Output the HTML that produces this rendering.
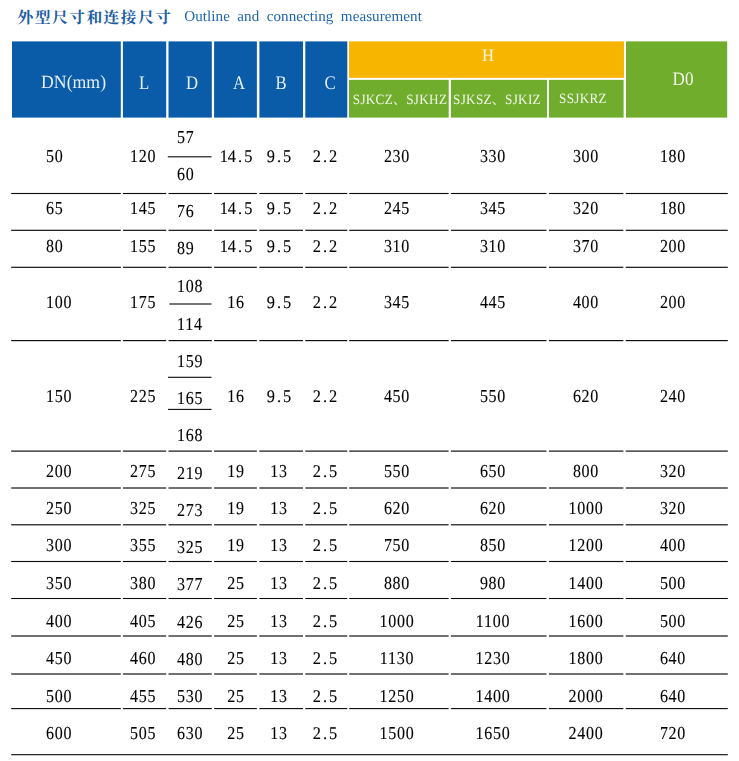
<!DOCTYPE html>
<html><head><meta charset="utf-8"><title>Outline and connecting measurement</title>
<style>
html,body{margin:0;padding:0;background:#fff;}
#pg{position:relative;width:739px;height:761px;overflow:hidden;background:#fff;font-family:"Liberation Serif",serif;text-rendering:geometricPrecision;}
#pg>svg{position:absolute;left:0;top:0;}
#tx{position:absolute;left:0;top:0;width:739px;height:761px;will-change:transform;}
.t{position:absolute;white-space:nowrap;line-height:1;display:block;}
.b{color:#000;letter-spacing:.85px;-webkit-text-stroke:.12px #000;}
.d{letter-spacing:0;}
.b i{font-style:normal;display:inline-block;width:.5em;text-align:center;}
.h{color:#fff;opacity:.9;}
.s{letter-spacing:.3px;}
.e{color:#1f66b0;}
.cm{display:inline-block;width:1em;letter-spacing:0;text-align:left;font-family:"Liberation Serif","Noto Serif CJK SC",serif;}
</style></head><body>
<div id="pg">
<svg width="739" height="761" viewBox="0 0 739 761">
<rect x="12.00" y="41.40" width="108.80" height="76.20" fill="#0a5ca8"/>
<rect x="122.90" y="41.40" width="43.30" height="76.20" fill="#0a5ca8"/>
<rect x="168.50" y="41.40" width="43.30" height="76.20" fill="#0a5ca8"/>
<rect x="214.10" y="41.40" width="42.80" height="76.20" fill="#0a5ca8"/>
<rect x="259.40" y="41.40" width="43.60" height="76.20" fill="#0a5ca8"/>
<rect x="305.30" y="41.40" width="42.00" height="76.20" fill="#0a5ca8"/>
<rect x="349.00" y="41.40" width="275.00" height="36.40" fill="#f7b500"/>
<rect x="349.00" y="79.90" width="99.70" height="37.70" fill="#70ad2d"/>
<rect x="450.90" y="79.90" width="96.10" height="37.70" fill="#70ad2d"/>
<rect x="548.90" y="79.90" width="74.70" height="37.70" fill="#70ad2d"/>
<rect x="626.00" y="41.40" width="101.20" height="76.20" fill="#70ad2d"/>
<rect x="11.20" y="192.95" width="109.60" height="1.10" fill="#0a0a0a"/>
<rect x="122.90" y="192.95" width="43.30" height="1.10" fill="#0a0a0a"/>
<rect x="168.50" y="192.95" width="43.30" height="1.10" fill="#0a0a0a"/>
<rect x="214.10" y="192.95" width="42.80" height="1.10" fill="#0a0a0a"/>
<rect x="259.40" y="192.95" width="43.60" height="1.10" fill="#0a0a0a"/>
<rect x="305.30" y="192.95" width="42.00" height="1.10" fill="#0a0a0a"/>
<rect x="349.20" y="192.95" width="99.40" height="1.10" fill="#0a0a0a"/>
<rect x="450.90" y="192.95" width="95.60" height="1.10" fill="#0a0a0a"/>
<rect x="548.90" y="192.95" width="74.50" height="1.10" fill="#0a0a0a"/>
<rect x="625.70" y="192.95" width="102.10" height="1.10" fill="#0a0a0a"/>
<rect x="11.20" y="229.73" width="109.60" height="1.15" fill="#0a0a0a"/>
<rect x="122.90" y="229.73" width="43.30" height="1.15" fill="#0a0a0a"/>
<rect x="168.50" y="229.73" width="43.30" height="1.15" fill="#0a0a0a"/>
<rect x="214.10" y="229.73" width="42.80" height="1.15" fill="#0a0a0a"/>
<rect x="259.40" y="229.73" width="43.60" height="1.15" fill="#0a0a0a"/>
<rect x="305.30" y="229.73" width="42.00" height="1.15" fill="#0a0a0a"/>
<rect x="349.20" y="229.73" width="99.40" height="1.15" fill="#0a0a0a"/>
<rect x="450.90" y="229.73" width="95.60" height="1.15" fill="#0a0a0a"/>
<rect x="548.90" y="229.73" width="74.50" height="1.15" fill="#0a0a0a"/>
<rect x="625.70" y="229.73" width="102.10" height="1.15" fill="#0a0a0a"/>
<rect x="11.20" y="266.73" width="109.60" height="1.15" fill="#0a0a0a"/>
<rect x="122.90" y="266.73" width="43.30" height="1.15" fill="#0a0a0a"/>
<rect x="168.50" y="266.73" width="43.30" height="1.15" fill="#0a0a0a"/>
<rect x="214.10" y="266.73" width="42.80" height="1.15" fill="#0a0a0a"/>
<rect x="259.40" y="266.73" width="43.60" height="1.15" fill="#0a0a0a"/>
<rect x="305.30" y="266.73" width="42.00" height="1.15" fill="#0a0a0a"/>
<rect x="349.20" y="266.73" width="99.40" height="1.15" fill="#0a0a0a"/>
<rect x="450.90" y="266.73" width="95.60" height="1.15" fill="#0a0a0a"/>
<rect x="548.90" y="266.73" width="74.50" height="1.15" fill="#0a0a0a"/>
<rect x="625.70" y="266.73" width="102.10" height="1.15" fill="#0a0a0a"/>
<rect x="11.20" y="340.03" width="109.60" height="1.15" fill="#0a0a0a"/>
<rect x="122.90" y="340.03" width="43.30" height="1.15" fill="#0a0a0a"/>
<rect x="168.50" y="340.03" width="43.30" height="1.15" fill="#0a0a0a"/>
<rect x="214.10" y="340.03" width="42.80" height="1.15" fill="#0a0a0a"/>
<rect x="259.40" y="340.03" width="43.60" height="1.15" fill="#0a0a0a"/>
<rect x="305.30" y="340.03" width="42.00" height="1.15" fill="#0a0a0a"/>
<rect x="349.20" y="340.03" width="99.40" height="1.15" fill="#0a0a0a"/>
<rect x="450.90" y="340.03" width="95.60" height="1.15" fill="#0a0a0a"/>
<rect x="548.90" y="340.03" width="74.50" height="1.15" fill="#0a0a0a"/>
<rect x="625.70" y="340.03" width="102.10" height="1.15" fill="#0a0a0a"/>
<rect x="11.20" y="450.53" width="109.60" height="1.15" fill="#0a0a0a"/>
<rect x="122.90" y="450.53" width="43.30" height="1.15" fill="#0a0a0a"/>
<rect x="168.50" y="450.53" width="43.30" height="1.15" fill="#0a0a0a"/>
<rect x="214.10" y="450.53" width="42.80" height="1.15" fill="#0a0a0a"/>
<rect x="259.40" y="450.53" width="43.60" height="1.15" fill="#0a0a0a"/>
<rect x="305.30" y="450.53" width="42.00" height="1.15" fill="#0a0a0a"/>
<rect x="349.20" y="450.53" width="99.40" height="1.15" fill="#0a0a0a"/>
<rect x="450.90" y="450.53" width="95.60" height="1.15" fill="#0a0a0a"/>
<rect x="548.90" y="450.53" width="74.50" height="1.15" fill="#0a0a0a"/>
<rect x="625.70" y="450.53" width="102.10" height="1.15" fill="#0a0a0a"/>
<rect x="11.20" y="487.43" width="109.60" height="1.15" fill="#0a0a0a"/>
<rect x="122.90" y="487.43" width="43.30" height="1.15" fill="#0a0a0a"/>
<rect x="168.50" y="487.43" width="43.30" height="1.15" fill="#0a0a0a"/>
<rect x="214.10" y="487.43" width="42.80" height="1.15" fill="#0a0a0a"/>
<rect x="259.40" y="487.43" width="43.60" height="1.15" fill="#0a0a0a"/>
<rect x="305.30" y="487.43" width="42.00" height="1.15" fill="#0a0a0a"/>
<rect x="349.20" y="487.43" width="99.40" height="1.15" fill="#0a0a0a"/>
<rect x="450.90" y="487.43" width="95.60" height="1.15" fill="#0a0a0a"/>
<rect x="548.90" y="487.43" width="74.50" height="1.15" fill="#0a0a0a"/>
<rect x="625.70" y="487.43" width="102.10" height="1.15" fill="#0a0a0a"/>
<rect x="11.20" y="524.22" width="109.60" height="1.15" fill="#0a0a0a"/>
<rect x="122.90" y="524.22" width="43.30" height="1.15" fill="#0a0a0a"/>
<rect x="168.50" y="524.22" width="43.30" height="1.15" fill="#0a0a0a"/>
<rect x="214.10" y="524.22" width="42.80" height="1.15" fill="#0a0a0a"/>
<rect x="259.40" y="524.22" width="43.60" height="1.15" fill="#0a0a0a"/>
<rect x="305.30" y="524.22" width="42.00" height="1.15" fill="#0a0a0a"/>
<rect x="349.20" y="524.22" width="99.40" height="1.15" fill="#0a0a0a"/>
<rect x="450.90" y="524.22" width="95.60" height="1.15" fill="#0a0a0a"/>
<rect x="548.90" y="524.22" width="74.50" height="1.15" fill="#0a0a0a"/>
<rect x="625.70" y="524.22" width="102.10" height="1.15" fill="#0a0a0a"/>
<rect x="11.20" y="560.95" width="109.60" height="1.10" fill="#0a0a0a"/>
<rect x="122.90" y="560.95" width="43.30" height="1.10" fill="#0a0a0a"/>
<rect x="168.50" y="560.95" width="43.30" height="1.10" fill="#0a0a0a"/>
<rect x="214.10" y="560.95" width="42.80" height="1.10" fill="#0a0a0a"/>
<rect x="259.40" y="560.95" width="43.60" height="1.10" fill="#0a0a0a"/>
<rect x="305.30" y="560.95" width="42.00" height="1.10" fill="#0a0a0a"/>
<rect x="349.20" y="560.95" width="99.40" height="1.10" fill="#0a0a0a"/>
<rect x="450.90" y="560.95" width="95.60" height="1.10" fill="#0a0a0a"/>
<rect x="548.90" y="560.95" width="74.50" height="1.10" fill="#0a0a0a"/>
<rect x="625.70" y="560.95" width="102.10" height="1.10" fill="#0a0a0a"/>
<rect x="11.20" y="597.98" width="109.60" height="1.05" fill="#0a0a0a"/>
<rect x="122.90" y="597.98" width="43.30" height="1.05" fill="#0a0a0a"/>
<rect x="168.50" y="597.98" width="43.30" height="1.05" fill="#0a0a0a"/>
<rect x="214.10" y="597.98" width="42.80" height="1.05" fill="#0a0a0a"/>
<rect x="259.40" y="597.98" width="43.60" height="1.05" fill="#0a0a0a"/>
<rect x="305.30" y="597.98" width="42.00" height="1.05" fill="#0a0a0a"/>
<rect x="349.20" y="597.98" width="99.40" height="1.05" fill="#0a0a0a"/>
<rect x="450.90" y="597.98" width="95.60" height="1.05" fill="#0a0a0a"/>
<rect x="548.90" y="597.98" width="74.50" height="1.05" fill="#0a0a0a"/>
<rect x="625.70" y="597.98" width="102.10" height="1.05" fill="#0a0a0a"/>
<rect x="11.20" y="635.42" width="109.60" height="1.15" fill="#0a0a0a"/>
<rect x="122.90" y="635.42" width="43.30" height="1.15" fill="#0a0a0a"/>
<rect x="168.50" y="635.42" width="43.30" height="1.15" fill="#0a0a0a"/>
<rect x="214.10" y="635.42" width="42.80" height="1.15" fill="#0a0a0a"/>
<rect x="259.40" y="635.42" width="43.60" height="1.15" fill="#0a0a0a"/>
<rect x="305.30" y="635.42" width="42.00" height="1.15" fill="#0a0a0a"/>
<rect x="349.20" y="635.42" width="99.40" height="1.15" fill="#0a0a0a"/>
<rect x="450.90" y="635.42" width="95.60" height="1.15" fill="#0a0a0a"/>
<rect x="548.90" y="635.42" width="74.50" height="1.15" fill="#0a0a0a"/>
<rect x="625.70" y="635.42" width="102.10" height="1.15" fill="#0a0a0a"/>
<rect x="11.20" y="673.42" width="109.60" height="1.15" fill="#0a0a0a"/>
<rect x="122.90" y="673.42" width="43.30" height="1.15" fill="#0a0a0a"/>
<rect x="168.50" y="673.42" width="43.30" height="1.15" fill="#0a0a0a"/>
<rect x="214.10" y="673.42" width="42.80" height="1.15" fill="#0a0a0a"/>
<rect x="259.40" y="673.42" width="43.60" height="1.15" fill="#0a0a0a"/>
<rect x="305.30" y="673.42" width="42.00" height="1.15" fill="#0a0a0a"/>
<rect x="349.20" y="673.42" width="99.40" height="1.15" fill="#0a0a0a"/>
<rect x="450.90" y="673.42" width="95.60" height="1.15" fill="#0a0a0a"/>
<rect x="548.90" y="673.42" width="74.50" height="1.15" fill="#0a0a0a"/>
<rect x="625.70" y="673.42" width="102.10" height="1.15" fill="#0a0a0a"/>
<rect x="11.20" y="708.05" width="109.60" height="1.10" fill="#0a0a0a"/>
<rect x="122.90" y="708.05" width="43.30" height="1.10" fill="#0a0a0a"/>
<rect x="168.50" y="708.05" width="43.30" height="1.10" fill="#0a0a0a"/>
<rect x="214.10" y="708.05" width="42.80" height="1.10" fill="#0a0a0a"/>
<rect x="259.40" y="708.05" width="43.60" height="1.10" fill="#0a0a0a"/>
<rect x="305.30" y="708.05" width="42.00" height="1.10" fill="#0a0a0a"/>
<rect x="349.20" y="708.05" width="99.40" height="1.10" fill="#0a0a0a"/>
<rect x="450.90" y="708.05" width="95.60" height="1.10" fill="#0a0a0a"/>
<rect x="548.90" y="708.05" width="74.50" height="1.10" fill="#0a0a0a"/>
<rect x="625.70" y="708.05" width="102.10" height="1.10" fill="#0a0a0a"/>
<rect x="11.20" y="754.15" width="716.60" height="1.10" fill="#0a0a0a"/>
<rect x="167.80" y="156.25" width="43.70" height="1.10" fill="#0a0a0a"/>
<rect x="169.30" y="303.45" width="42.20" height="1.10" fill="#0a0a0a"/>
<rect x="168.00" y="376.75" width="43.50" height="1.10" fill="#0a0a0a"/>
<rect x="168.00" y="408.85" width="43.50" height="1.10" fill="#0a0a0a"/>
<text x="17.6" y="22.5" font-size="15.8" font-weight="bold" letter-spacing="1.4" fill="#1c5da6" font-family="&quot;Liberation Serif&quot;,&quot;Noto Serif CJK SC&quot;,serif">外型尺寸和连接尺寸</text>
</svg>
<div id="tx">
<span class="t h" style="left:41.40px;top:73.72px;font-size:18.6px;transform:scaleX(0.955);transform-origin:0 0;">DN(mm)</span>
<span class="t h" style="left:144.30px;top:73.74px;font-size:19.3px;transform:translateX(-50%) scaleX(0.868);">L</span>
<span class="t h" style="left:191.70px;top:73.74px;font-size:19.3px;transform:translateX(-50%) scaleX(0.868);">D</span>
<span class="t h" style="left:238.70px;top:73.74px;font-size:19.3px;transform:translateX(-50%) scaleX(0.868);">A</span>
<span class="t h" style="left:281.20px;top:73.74px;font-size:19.3px;transform:translateX(-50%) scaleX(0.868);">B</span>
<span class="t h" style="left:330.20px;top:73.74px;font-size:19.3px;transform:translateX(-50%) scaleX(0.868);">C</span>
<span class="t h" style="left:488.20px;top:47.04px;font-size:17.5px;transform:translateX(-50%) scaleX(0.95);">H</span>
<span class="t h" style="left:683.20px;top:70.29px;font-size:19.0px;transform:translateX(-50%) scaleX(0.9);">D0</span>
<span class="t h s" style="left:400.00px;top:92.51px;font-size:14.2px;transform:translateX(-50%) scaleX(0.93);">SJKCZ<span class="cm">、</span>SJKHZ</span>
<span class="t h s" style="left:497.20px;top:92.51px;font-size:14.2px;transform:translateX(-50%) scaleX(0.93);">SJKSZ<span class="cm">、</span>SJKIZ</span>
<span class="t h s" style="left:583.40px;top:92.41px;font-size:14.2px;transform:translateX(-50%) scaleX(0.93);">SSJKRZ</span>
<span class="t e" style="left:184.30px;top:9.75px;font-size:15.1px;transform:scaleX(1.0);transform-origin:0 0;word-spacing:3.6px;letter-spacing:.05px;">Outline and connecting measurement</span>
<span class="t b" style="left:45.60px;top:147.30px;font-size:18.3px;transform:scaleX(0.875);transform-origin:0 0;">50</span>
<span class="t b" style="left:129.90px;top:147.30px;font-size:18.3px;transform:scaleX(0.875);transform-origin:0 0;">120</span>
<span class="t b d" style="left:236.20px;top:148.00px;font-size:17.8px;transform:translateX(-50%) scaleX(0.92);">14<i>.</i>5</span>
<span class="t b d" style="left:278.70px;top:148.00px;font-size:17.8px;transform:translateX(-50%) scaleX(0.92);">9<i>.</i>5</span>
<span class="t b d" style="left:324.60px;top:148.00px;font-size:17.8px;transform:translateX(-50%) scaleX(0.92);">2<i>.</i>2</span>
<span class="t b" style="left:396.60px;top:147.30px;font-size:18.3px;transform:translateX(-50%) scaleX(0.875);">230</span>
<span class="t b" style="left:493.30px;top:147.30px;font-size:18.3px;transform:translateX(-50%) scaleX(0.875);">330</span>
<span class="t b" style="left:585.90px;top:147.30px;font-size:18.3px;transform:translateX(-50%) scaleX(0.875);">300</span>
<span class="t b" style="left:673.20px;top:147.30px;font-size:18.3px;transform:translateX(-50%) scaleX(0.875);">180</span>
<span class="t b" style="left:45.60px;top:199.30px;font-size:18.3px;transform:scaleX(0.875);transform-origin:0 0;">65</span>
<span class="t b" style="left:129.90px;top:199.30px;font-size:18.3px;transform:scaleX(0.875);transform-origin:0 0;">145</span>
<span class="t b" style="left:176.60px;top:202.30px;font-size:18.3px;transform:scaleX(0.875);transform-origin:0 0;">76</span>
<span class="t b d" style="left:236.20px;top:200.00px;font-size:17.8px;transform:translateX(-50%) scaleX(0.92);">14<i>.</i>5</span>
<span class="t b d" style="left:278.70px;top:200.00px;font-size:17.8px;transform:translateX(-50%) scaleX(0.92);">9<i>.</i>5</span>
<span class="t b d" style="left:324.60px;top:200.00px;font-size:17.8px;transform:translateX(-50%) scaleX(0.92);">2<i>.</i>2</span>
<span class="t b" style="left:396.60px;top:199.30px;font-size:18.3px;transform:translateX(-50%) scaleX(0.875);">245</span>
<span class="t b" style="left:493.30px;top:199.30px;font-size:18.3px;transform:translateX(-50%) scaleX(0.875);">345</span>
<span class="t b" style="left:585.90px;top:199.30px;font-size:18.3px;transform:translateX(-50%) scaleX(0.875);">320</span>
<span class="t b" style="left:673.20px;top:199.30px;font-size:18.3px;transform:translateX(-50%) scaleX(0.875);">180</span>
<span class="t b" style="left:45.60px;top:237.30px;font-size:18.3px;transform:scaleX(0.875);transform-origin:0 0;">80</span>
<span class="t b" style="left:129.90px;top:237.30px;font-size:18.3px;transform:scaleX(0.875);transform-origin:0 0;">155</span>
<span class="t b" style="left:176.60px;top:239.30px;font-size:18.3px;transform:scaleX(0.875);transform-origin:0 0;">89</span>
<span class="t b d" style="left:236.20px;top:238.00px;font-size:17.8px;transform:translateX(-50%) scaleX(0.92);">14<i>.</i>5</span>
<span class="t b d" style="left:278.70px;top:238.00px;font-size:17.8px;transform:translateX(-50%) scaleX(0.92);">9<i>.</i>5</span>
<span class="t b d" style="left:324.60px;top:238.00px;font-size:17.8px;transform:translateX(-50%) scaleX(0.92);">2<i>.</i>2</span>
<span class="t b" style="left:396.60px;top:237.30px;font-size:18.3px;transform:translateX(-50%) scaleX(0.875);">310</span>
<span class="t b" style="left:493.30px;top:237.30px;font-size:18.3px;transform:translateX(-50%) scaleX(0.875);">310</span>
<span class="t b" style="left:585.90px;top:237.30px;font-size:18.3px;transform:translateX(-50%) scaleX(0.875);">370</span>
<span class="t b" style="left:673.20px;top:237.30px;font-size:18.3px;transform:translateX(-50%) scaleX(0.875);">200</span>
<span class="t b" style="left:45.60px;top:293.30px;font-size:18.3px;transform:scaleX(0.875);transform-origin:0 0;">100</span>
<span class="t b" style="left:129.90px;top:293.30px;font-size:18.3px;transform:scaleX(0.875);transform-origin:0 0;">175</span>
<span class="t b" style="left:236.20px;top:293.30px;font-size:18.3px;transform:translateX(-50%) scaleX(0.875);">16</span>
<span class="t b d" style="left:278.70px;top:294.00px;font-size:17.8px;transform:translateX(-50%) scaleX(0.92);">9<i>.</i>5</span>
<span class="t b d" style="left:324.60px;top:294.00px;font-size:17.8px;transform:translateX(-50%) scaleX(0.92);">2<i>.</i>2</span>
<span class="t b" style="left:396.60px;top:293.30px;font-size:18.3px;transform:translateX(-50%) scaleX(0.875);">345</span>
<span class="t b" style="left:493.30px;top:293.30px;font-size:18.3px;transform:translateX(-50%) scaleX(0.875);">445</span>
<span class="t b" style="left:585.90px;top:293.30px;font-size:18.3px;transform:translateX(-50%) scaleX(0.875);">400</span>
<span class="t b" style="left:673.20px;top:293.30px;font-size:18.3px;transform:translateX(-50%) scaleX(0.875);">200</span>
<span class="t b" style="left:45.60px;top:387.30px;font-size:18.3px;transform:scaleX(0.875);transform-origin:0 0;">150</span>
<span class="t b" style="left:129.90px;top:387.30px;font-size:18.3px;transform:scaleX(0.875);transform-origin:0 0;">225</span>
<span class="t b" style="left:236.20px;top:387.30px;font-size:18.3px;transform:translateX(-50%) scaleX(0.875);">16</span>
<span class="t b d" style="left:278.70px;top:388.00px;font-size:17.8px;transform:translateX(-50%) scaleX(0.92);">9<i>.</i>5</span>
<span class="t b d" style="left:324.60px;top:388.00px;font-size:17.8px;transform:translateX(-50%) scaleX(0.92);">2<i>.</i>2</span>
<span class="t b" style="left:396.60px;top:387.30px;font-size:18.3px;transform:translateX(-50%) scaleX(0.875);">450</span>
<span class="t b" style="left:493.30px;top:387.30px;font-size:18.3px;transform:translateX(-50%) scaleX(0.875);">550</span>
<span class="t b" style="left:585.90px;top:387.30px;font-size:18.3px;transform:translateX(-50%) scaleX(0.875);">620</span>
<span class="t b" style="left:673.20px;top:387.30px;font-size:18.3px;transform:translateX(-50%) scaleX(0.875);">240</span>
<span class="t b" style="left:45.60px;top:462.30px;font-size:18.3px;transform:scaleX(0.875);transform-origin:0 0;">200</span>
<span class="t b" style="left:129.90px;top:462.30px;font-size:18.3px;transform:scaleX(0.875);transform-origin:0 0;">275</span>
<span class="t b" style="left:176.60px;top:464.30px;font-size:18.3px;transform:scaleX(0.875);transform-origin:0 0;">219</span>
<span class="t b" style="left:236.20px;top:462.30px;font-size:18.3px;transform:translateX(-50%) scaleX(0.875);">19</span>
<span class="t b" style="left:278.70px;top:462.30px;font-size:18.3px;transform:translateX(-50%) scaleX(0.875);">13</span>
<span class="t b d" style="left:324.60px;top:463.00px;font-size:17.8px;transform:translateX(-50%) scaleX(0.92);">2<i>.</i>5</span>
<span class="t b" style="left:396.60px;top:462.30px;font-size:18.3px;transform:translateX(-50%) scaleX(0.875);">550</span>
<span class="t b" style="left:493.30px;top:462.30px;font-size:18.3px;transform:translateX(-50%) scaleX(0.875);">650</span>
<span class="t b" style="left:585.90px;top:462.30px;font-size:18.3px;transform:translateX(-50%) scaleX(0.875);">800</span>
<span class="t b" style="left:673.20px;top:462.30px;font-size:18.3px;transform:translateX(-50%) scaleX(0.875);">320</span>
<span class="t b" style="left:45.60px;top:499.30px;font-size:18.3px;transform:scaleX(0.875);transform-origin:0 0;">250</span>
<span class="t b" style="left:129.90px;top:499.30px;font-size:18.3px;transform:scaleX(0.875);transform-origin:0 0;">325</span>
<span class="t b" style="left:176.60px;top:501.30px;font-size:18.3px;transform:scaleX(0.875);transform-origin:0 0;">273</span>
<span class="t b" style="left:236.20px;top:499.30px;font-size:18.3px;transform:translateX(-50%) scaleX(0.875);">19</span>
<span class="t b" style="left:278.70px;top:499.30px;font-size:18.3px;transform:translateX(-50%) scaleX(0.875);">13</span>
<span class="t b d" style="left:324.60px;top:500.00px;font-size:17.8px;transform:translateX(-50%) scaleX(0.92);">2<i>.</i>5</span>
<span class="t b" style="left:396.60px;top:499.30px;font-size:18.3px;transform:translateX(-50%) scaleX(0.875);">620</span>
<span class="t b" style="left:493.30px;top:499.30px;font-size:18.3px;transform:translateX(-50%) scaleX(0.875);">620</span>
<span class="t b" style="left:585.90px;top:499.30px;font-size:18.3px;transform:translateX(-50%) scaleX(0.875);">1000</span>
<span class="t b" style="left:673.20px;top:499.30px;font-size:18.3px;transform:translateX(-50%) scaleX(0.875);">320</span>
<span class="t b" style="left:45.60px;top:536.30px;font-size:18.3px;transform:scaleX(0.875);transform-origin:0 0;">300</span>
<span class="t b" style="left:129.90px;top:536.30px;font-size:18.3px;transform:scaleX(0.875);transform-origin:0 0;">355</span>
<span class="t b" style="left:176.60px;top:538.30px;font-size:18.3px;transform:scaleX(0.875);transform-origin:0 0;">325</span>
<span class="t b" style="left:236.20px;top:536.30px;font-size:18.3px;transform:translateX(-50%) scaleX(0.875);">19</span>
<span class="t b" style="left:278.70px;top:536.30px;font-size:18.3px;transform:translateX(-50%) scaleX(0.875);">13</span>
<span class="t b d" style="left:324.60px;top:537.00px;font-size:17.8px;transform:translateX(-50%) scaleX(0.92);">2<i>.</i>5</span>
<span class="t b" style="left:396.60px;top:536.30px;font-size:18.3px;transform:translateX(-50%) scaleX(0.875);">750</span>
<span class="t b" style="left:493.30px;top:536.30px;font-size:18.3px;transform:translateX(-50%) scaleX(0.875);">850</span>
<span class="t b" style="left:585.90px;top:536.30px;font-size:18.3px;transform:translateX(-50%) scaleX(0.875);">1200</span>
<span class="t b" style="left:673.20px;top:536.30px;font-size:18.3px;transform:translateX(-50%) scaleX(0.875);">400</span>
<span class="t b" style="left:45.60px;top:574.30px;font-size:18.3px;transform:scaleX(0.875);transform-origin:0 0;">350</span>
<span class="t b" style="left:129.90px;top:574.30px;font-size:18.3px;transform:scaleX(0.875);transform-origin:0 0;">380</span>
<span class="t b" style="left:176.60px;top:575.30px;font-size:18.3px;transform:scaleX(0.875);transform-origin:0 0;">377</span>
<span class="t b" style="left:236.20px;top:574.30px;font-size:18.3px;transform:translateX(-50%) scaleX(0.875);">25</span>
<span class="t b" style="left:278.70px;top:574.30px;font-size:18.3px;transform:translateX(-50%) scaleX(0.875);">13</span>
<span class="t b d" style="left:324.60px;top:575.00px;font-size:17.8px;transform:translateX(-50%) scaleX(0.92);">2<i>.</i>5</span>
<span class="t b" style="left:396.60px;top:574.30px;font-size:18.3px;transform:translateX(-50%) scaleX(0.875);">880</span>
<span class="t b" style="left:493.30px;top:574.30px;font-size:18.3px;transform:translateX(-50%) scaleX(0.875);">980</span>
<span class="t b" style="left:585.90px;top:574.30px;font-size:18.3px;transform:translateX(-50%) scaleX(0.875);">1400</span>
<span class="t b" style="left:673.20px;top:574.30px;font-size:18.3px;transform:translateX(-50%) scaleX(0.875);">500</span>
<span class="t b" style="left:45.60px;top:612.30px;font-size:18.3px;transform:scaleX(0.875);transform-origin:0 0;">400</span>
<span class="t b" style="left:129.90px;top:612.30px;font-size:18.3px;transform:scaleX(0.875);transform-origin:0 0;">405</span>
<span class="t b" style="left:176.60px;top:613.30px;font-size:18.3px;transform:scaleX(0.875);transform-origin:0 0;">426</span>
<span class="t b" style="left:236.20px;top:612.30px;font-size:18.3px;transform:translateX(-50%) scaleX(0.875);">25</span>
<span class="t b" style="left:278.70px;top:612.30px;font-size:18.3px;transform:translateX(-50%) scaleX(0.875);">13</span>
<span class="t b d" style="left:324.60px;top:613.00px;font-size:17.8px;transform:translateX(-50%) scaleX(0.92);">2<i>.</i>5</span>
<span class="t b" style="left:396.60px;top:612.30px;font-size:18.3px;transform:translateX(-50%) scaleX(0.875);">1000</span>
<span class="t b" style="left:493.30px;top:612.30px;font-size:18.3px;transform:translateX(-50%) scaleX(0.875);">1100</span>
<span class="t b" style="left:585.90px;top:612.30px;font-size:18.3px;transform:translateX(-50%) scaleX(0.875);">1600</span>
<span class="t b" style="left:673.20px;top:612.30px;font-size:18.3px;transform:translateX(-50%) scaleX(0.875);">500</span>
<span class="t b" style="left:45.60px;top:649.30px;font-size:18.3px;transform:scaleX(0.875);transform-origin:0 0;">450</span>
<span class="t b" style="left:129.90px;top:649.30px;font-size:18.3px;transform:scaleX(0.875);transform-origin:0 0;">460</span>
<span class="t b" style="left:176.60px;top:650.30px;font-size:18.3px;transform:scaleX(0.875);transform-origin:0 0;">480</span>
<span class="t b" style="left:236.20px;top:649.30px;font-size:18.3px;transform:translateX(-50%) scaleX(0.875);">25</span>
<span class="t b" style="left:278.70px;top:649.30px;font-size:18.3px;transform:translateX(-50%) scaleX(0.875);">13</span>
<span class="t b d" style="left:324.60px;top:650.00px;font-size:17.8px;transform:translateX(-50%) scaleX(0.92);">2<i>.</i>5</span>
<span class="t b" style="left:396.60px;top:649.30px;font-size:18.3px;transform:translateX(-50%) scaleX(0.875);">1130</span>
<span class="t b" style="left:493.30px;top:649.30px;font-size:18.3px;transform:translateX(-50%) scaleX(0.875);">1230</span>
<span class="t b" style="left:585.90px;top:649.30px;font-size:18.3px;transform:translateX(-50%) scaleX(0.875);">1800</span>
<span class="t b" style="left:673.20px;top:649.30px;font-size:18.3px;transform:translateX(-50%) scaleX(0.875);">640</span>
<span class="t b" style="left:45.60px;top:687.30px;font-size:18.3px;transform:scaleX(0.875);transform-origin:0 0;">500</span>
<span class="t b" style="left:129.90px;top:687.30px;font-size:18.3px;transform:scaleX(0.875);transform-origin:0 0;">455</span>
<span class="t b" style="left:176.60px;top:687.30px;font-size:18.3px;transform:scaleX(0.875);transform-origin:0 0;">530</span>
<span class="t b" style="left:236.20px;top:687.30px;font-size:18.3px;transform:translateX(-50%) scaleX(0.875);">25</span>
<span class="t b" style="left:278.70px;top:687.30px;font-size:18.3px;transform:translateX(-50%) scaleX(0.875);">13</span>
<span class="t b d" style="left:324.60px;top:688.00px;font-size:17.8px;transform:translateX(-50%) scaleX(0.92);">2<i>.</i>5</span>
<span class="t b" style="left:396.60px;top:687.30px;font-size:18.3px;transform:translateX(-50%) scaleX(0.875);">1250</span>
<span class="t b" style="left:493.30px;top:687.30px;font-size:18.3px;transform:translateX(-50%) scaleX(0.875);">1400</span>
<span class="t b" style="left:585.90px;top:687.30px;font-size:18.3px;transform:translateX(-50%) scaleX(0.875);">2000</span>
<span class="t b" style="left:673.20px;top:687.30px;font-size:18.3px;transform:translateX(-50%) scaleX(0.875);">640</span>
<span class="t b" style="left:45.60px;top:724.30px;font-size:18.3px;transform:scaleX(0.875);transform-origin:0 0;">600</span>
<span class="t b" style="left:129.90px;top:724.30px;font-size:18.3px;transform:scaleX(0.875);transform-origin:0 0;">505</span>
<span class="t b" style="left:176.60px;top:724.30px;font-size:18.3px;transform:scaleX(0.875);transform-origin:0 0;">630</span>
<span class="t b" style="left:236.20px;top:724.30px;font-size:18.3px;transform:translateX(-50%) scaleX(0.875);">25</span>
<span class="t b" style="left:278.70px;top:724.30px;font-size:18.3px;transform:translateX(-50%) scaleX(0.875);">13</span>
<span class="t b d" style="left:324.60px;top:725.00px;font-size:17.8px;transform:translateX(-50%) scaleX(0.92);">2<i>.</i>5</span>
<span class="t b" style="left:396.60px;top:724.30px;font-size:18.3px;transform:translateX(-50%) scaleX(0.875);">1500</span>
<span class="t b" style="left:493.30px;top:724.30px;font-size:18.3px;transform:translateX(-50%) scaleX(0.875);">1650</span>
<span class="t b" style="left:585.90px;top:724.30px;font-size:18.3px;transform:translateX(-50%) scaleX(0.875);">2400</span>
<span class="t b" style="left:673.20px;top:724.30px;font-size:18.3px;transform:translateX(-50%) scaleX(0.875);">720</span>
<span class="t b" style="left:176.60px;top:128.30px;font-size:18.3px;transform:scaleX(0.875);transform-origin:0 0;">57</span>
<span class="t b" style="left:176.60px;top:165.30px;font-size:18.3px;transform:scaleX(0.875);transform-origin:0 0;">60</span>
<span class="t b" style="left:176.60px;top:277.30px;font-size:18.3px;transform:scaleX(0.875);transform-origin:0 0;">108</span>
<span class="t b" style="left:176.60px;top:315.30px;font-size:18.3px;transform:scaleX(0.875);transform-origin:0 0;">114</span>
<span class="t b" style="left:176.60px;top:352.30px;font-size:18.3px;transform:scaleX(0.875);transform-origin:0 0;">159</span>
<span class="t b" style="left:176.60px;top:389.30px;font-size:18.3px;transform:scaleX(0.875);transform-origin:0 0;">165</span>
<span class="t b" style="left:176.60px;top:426.30px;font-size:18.3px;transform:scaleX(0.875);transform-origin:0 0;">168</span>
</div>
</div>
</body></html>
